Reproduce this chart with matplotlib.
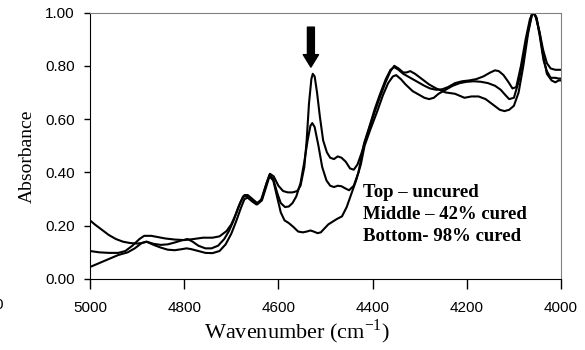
import numpy as np
import matplotlib
matplotlib.use("Agg")
import matplotlib.pyplot as plt
from matplotlib.ticker import FormatStrFormatter

# spectra (wavenumber, absorbance)
wn_top = [5000, 4980, 4960, 4940, 4925, 4910, 4895, 4885, 4870, 4855, 4840, 4820, 4800, 4780, 4760,
          4740, 4725, 4710, 4700, 4690, 4680, 4672, 4665, 4655, 4645, 4635, 4625, 4618, 4610, 4600,
          4590, 4580, 4570, 4560, 4553, 4545, 4540, 4535, 4530, 4527, 4523, 4518, 4512, 4505, 4497,
          4490, 4482, 4474, 4466, 4457, 4448, 4440, 4432, 4424, 4416, 4408, 4395, 4385, 4372, 4362,
          4354, 4345, 4335, 4328, 4320, 4310, 4295, 4280, 4265, 4245, 4225, 4205, 4190, 4175, 4160,
          4145, 4130, 4120, 4110, 4100, 4090, 4080, 4070, 4062, 4058, 4052, 4045, 4038, 4030, 4020,
          4012, 4005, 4000]
ab_top = [.105, .100, .098, .098, .105, .125, .150, .162, .162, .157, .152, .148, .146, .150, .155,
          .155, .160, .180, .205, .245, .290, .315, .315, .300, .285, .300, .360, .395, .385, .350,
          .330, .325, .325, .330, .350, .420, .520, .660, .750, .770, .760, .700, .610, .520, .475,
          .455, .450, .460, .455, .440, .415, .410, .430, .470, .515, .560, .630, .680, .740, .780,
          .800, .790, .775, .775, .780, .770, .750, .730, .715, .700, .695, .680, .685, .685, .675,
          .655, .635, .630, .635, .650, .700, .800, .920, .990, 1.00, .980, .920, .840, .770, .745,
          .738, .745, .745]

wn_mid = [5000, 4980, 4960, 4940, 4920, 4905, 4890, 4880, 4865, 4850, 4835, 4820, 4805, 4793, 4782,
          4770, 4755, 4742, 4728, 4715, 4705, 4695, 4685, 4675, 4667, 4657, 4647, 4637, 4627, 4619,
          4611, 4602, 4595, 4586, 4578, 4570, 4562, 4553, 4545, 4538, 4532, 4528, 4523, 4515, 4507,
          4498, 4490, 4482, 4474, 4466, 4458, 4450, 4440, 4430, 4418, 4408, 4395, 4385, 4372, 4362,
          4354, 4345, 4335, 4320, 4305, 4290, 4278, 4265, 4252, 4240, 4225, 4210, 4195, 4180, 4165,
          4150, 4140, 4132, 4122, 4112, 4103, 4095, 4085, 4075, 4066, 4060, 4054, 4046, 4038, 4030,
          4022, 4012, 4000]
ab_mid = [.045, .060, .075, .090, .100, .115, .135, .140, .132, .128, .130, .137, .145, .150, .140,
          .125, .115, .115, .125, .150, .180, .220, .270, .310, .310, .295, .280, .295, .350, .390,
          .375, .320, .285, .270, .272, .285, .310, .360, .440, .520, .575, .585, .570, .500, .420,
          .370, .350, .345, .350, .348, .340, .333, .350, .400, .510, .565, .640, .690, .750, .785,
          .795, .785, .770, .755, .740, .725, .715, .710, .712, .720, .735, .742, .745, .750, .760,
          .775, .783, .780, .765, .740, .715, .720, .800, .900, .975, 1.00, .985, .930, .860, .810,
          .790, .785, .785]

wn_bot = [5000, 4990, 4975, 4960, 4945, 4930, 4915, 4900, 4890, 4880, 4865, 4850, 4835, 4820, 4805,
          4795, 4785, 4770, 4755, 4740, 4725, 4712, 4700, 4690, 4680, 4672, 4665, 4655, 4645, 4635,
          4626, 4619, 4611, 4603, 4595, 4587, 4578, 4568, 4558, 4548, 4540, 4532, 4525, 4517, 4510,
          4502, 4494, 4485, 4476, 4465, 4455, 4445, 4435, 4425, 4417, 4405, 4390, 4378, 4367, 4357,
          4350, 4340, 4330, 4315, 4300, 4290, 4280, 4270, 4260, 4245, 4230, 4215, 4200, 4185, 4170,
          4155, 4140, 4128, 4118, 4110, 4100, 4090, 4080, 4070, 4062, 4058, 4052, 4045, 4037, 4030,
          4022, 4012, 4005, 4000]
ab_bot = [.220, .205, .185, .165, .150, .140, .135, .133, .135, .140, .128, .118, .110, .108, .112,
          .115, .112, .105, .098, .097, .105, .130, .170, .215, .265, .300, .305, .290, .280, .295,
          .345, .385, .370, .310, .250, .220, .210, .195, .178, .175, .178, .182, .178, .172, .175,
          .190, .205, .215, .225, .235, .270, .320, .370, .430, .500, .560, .630, .690, .735, .760,
          .765, .750, .730, .705, .690, .680, .675, .680, .695, .710, .725, .735, .740, .742, .740,
          .735, .725, .710, .690, .675, .680, .740, .830, .930, .990, 1.00, .980, .910, .820, .780,
          .755, .755, .752, .752]

legend_lines = ["Top \u2013 uncured", "Middle \u2013 42% cured", "Bottom- 98% cured"]
x_ticks = [5000, 4800, 4600, 4400, 4200, 4000]
y_ticks = [0.0, 0.2, 0.4, 0.6, 0.8, 1.0]

fig = plt.figure(figsize=(5.85, 3.5), dpi=100)
ax = fig.add_axes([90 / 585, 71 / 350, 471 / 585, 266.5 / 350])

for wn, ab in [(wn_top, ab_top), (wn_mid, ab_mid), (wn_bot, ab_bot)]:
    ax.plot(wn, ab, color="black", lw=1.5)

ax.set_xlim(5000, 4000)
ax.set_ylim(0, 1)
ax.set_xticks(x_ticks)
ax.set_yticks(y_ticks)
ax.yaxis.set_major_formatter(FormatStrFormatter("%.2f"))

for lab in ax.get_xticklabels() + ax.get_yticklabels():
    lab.set_fontfamily("Liberation Sans")
    lab.set_fontsize(11)
ax.tick_params(axis="x", direction="out", length=7, width=1, pad=9)
ax.tick_params(axis="y", direction="out", length=4, width=1, pad=7)

ax.spines["left"].set_color("black")
ax.spines["bottom"].set_color("black")
ax.spines["top"].set_color("#808080")
ax.spines["right"].set_color("#808080")

ax.set_xlabel("Wavenumber (cm$^{\\mathregular{-1}}$)", family="Liberation Serif", fontsize=16)
ax.set_ylabel("Absorbance", family="Liberation Serif", fontsize=14)
ax.xaxis.set_label_coords(0.44, -0.145)
ax.yaxis.set_label_coords(-0.115, 0.46)

# arrow pointing at the 4530 band
ax.annotate("", xy=(4531, 0.795), xytext=(4531, 0.945),
            arrowprops=dict(facecolor="black", edgecolor="black", width=5,
                            headwidth=11, headlength=9, shrink=0))

for i, txt in enumerate(legend_lines):
    ax.text(4421, 0.326 - i * 0.084, txt, family="Liberation Serif", fontweight="bold",
            fontsize=13.5, va="center", ha="left")

# clipped fragment at the left edge, as in the original
fig.text(3 / 585, 1 - 305 / 350, "0", ha="right", va="center",
         family="Liberation Sans", fontsize=11)

fig.savefig("out.png", dpi=100)
